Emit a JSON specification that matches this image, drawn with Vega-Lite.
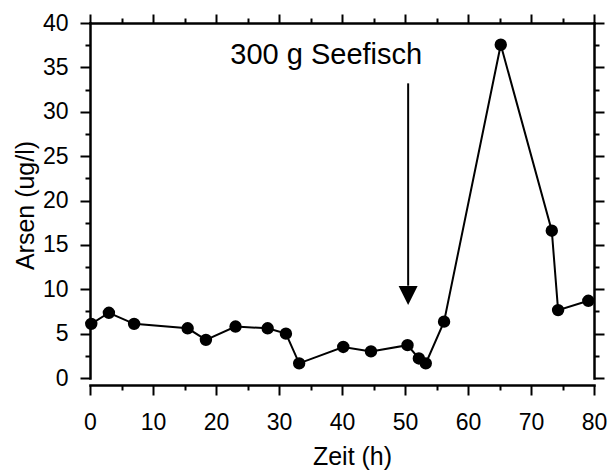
{
  "$schema": "https://vega.github.io/schema/vega-lite/v6.json",
  "width": 504,
  "height": 355,
  "autosize": {"type": "none"},
  "padding": {"left": 90, "top": 23, "right": 14, "bottom": 92},
  "background": "white",
  "config": {
    "view": {"stroke": null},
    "font": "Liberation Sans",
    "axis": {
      "domainColor": "black",
      "tickColor": "black",
      "labelColor": "black",
      "titleColor": "black",
      "domainWidth": 2.5,
      "tickWidth": 2,
      "grid": false,
      "labelFont": "Liberation Sans",
      "titleFont": "Liberation Sans",
      "labelFontSize": 23,
      "titleFontSize": 25,
      "titleFontWeight": "normal",
      "labelOverlap": false,
      "labelFlush": false,
      "domainCap": "square"
    }
  },
  "data": {
    "values": [
      {"t": 0.2, "as": 6.1},
      {"t": 3.0, "as": 7.35},
      {"t": 7.0, "as": 6.1},
      {"t": 15.5, "as": 5.6},
      {"t": 18.4, "as": 4.3},
      {"t": 23.1, "as": 5.8},
      {"t": 28.2, "as": 5.6},
      {"t": 31.1, "as": 5.0},
      {"t": 33.2, "as": 1.65},
      {"t": 40.2, "as": 3.5},
      {"t": 44.6, "as": 3.0},
      {"t": 50.4, "as": 3.7},
      {"t": 52.2, "as": 2.2},
      {"t": 53.3, "as": 1.65},
      {"t": 56.2, "as": 6.35},
      {"t": 65.2, "as": 37.55},
      {"t": 73.3, "as": 16.6},
      {"t": 74.3, "as": 7.65},
      {"t": 79.1, "as": 8.7}
    ]
  },
  "layer": [
    {
      "mark": {"type": "line", "color": "black", "strokeWidth": 2},
      "encoding": {
        "x": {
          "field": "t", "type": "quantitative",
          "scale": {"domain": [0, 80], "nice": false, "zero": false},
          "axis": {
            "orient": "bottom", "offset": 7,
            "values": [0, 5, 10, 15, 20, 25, 30, 35, 40, 45, 50, 55, 60, 65, 70, 75, 80],
            "tickSize": {"condition": {"test": "datum.value % 10 === 0", "value": 10}, "value": 5},
            "labelExpr": "datum.value % 10 === 0 ? datum.label : ''",
            "labelPadding": 16,
            "title": "Zeit (h)",
            "titleX": 262,
            "titlePadding": 10
          }
        },
        "y": {
          "field": "as", "type": "quantitative",
          "scale": {"domain": [0, 40], "nice": false},
          "axis": {
            "orient": "left",
            "values": [0, 2.5, 5, 7.5, 10, 12.5, 15, 17.5, 20, 22.5, 25, 27.5, 30, 32.5, 35, 37.5, 40],
            "tickSize": {"condition": {"test": "datum.value % 5 === 0", "value": 10}, "value": 5},
            "labelExpr": "datum.value % 5 === 0 ? datum.label : ''",
            "labelPadding": 12,
            "title": "Arsen (ug/l)",
            "titleY": 182,
            "titlePadding": 4
          }
        }
      }
    },
    {
      "mark": {"type": "point", "filled": true, "color": "black", "size": 154, "opacity": 1},
      "encoding": {
        "x": {
          "field": "t", "type": "quantitative",
          "axis": {
            "orient": "top",
            "values": [0, 5, 10, 15, 20, 25, 30, 35, 40, 45, 50, 55, 60, 65, 70, 75, 80],
            "tickSize": {"condition": {"test": "datum.value % 10 === 0", "value": 9}, "value": 5},
            "labels": false,
            "title": null
          }
        },
        "y": {
          "field": "as", "type": "quantitative",
          "axis": {
            "orient": "right",
            "values": [0, 2.5, 5, 7.5, 10, 12.5, 15, 17.5, 20, 22.5, 25, 27.5, 30, 32.5, 35, 37.5, 40],
            "tickSize": {"condition": {"test": "datum.value % 5 === 0", "value": 10}, "value": 5},
            "labels": false,
            "title": null
          }
        }
      }
    },
    {
      "data": {"values": [{"label": "300 g Seefisch", "tx": 37.5, "ty": 35.4}]},
      "mark": {"type": "text", "fontSize": 29, "font": "Liberation Sans", "align": "center", "baseline": "alphabetic", "color": "black"},
      "encoding": {
        "x": {"field": "tx", "type": "quantitative", "axis": null},
        "y": {"field": "ty", "type": "quantitative", "axis": null},
        "text": {"field": "label"}
      }
    },
    {
      "data": {"values": [{"ax": 50.5, "ay1": 33.2, "ay2": 10.4}]},
      "mark": {"type": "rule", "color": "black", "strokeWidth": 2},
      "encoding": {
        "x": {"field": "ax", "type": "quantitative", "axis": null},
        "y": {"field": "ay1", "type": "quantitative", "axis": null},
        "y2": {"field": "ay2"}
      }
    },
    {
      "data": {"values": [{"ax": 50.5, "ay": 9.3}]},
      "mark": {"type": "point", "shape": "M-1,-1L1,-1L0,1Z", "filled": true, "color": "black", "size": 361, "opacity": 1},
      "encoding": {
        "x": {"field": "ax", "type": "quantitative", "axis": null},
        "y": {"field": "ay", "type": "quantitative", "axis": null}
      }
    }
  ],
  "resolve": {"axis": {"x": "independent", "y": "independent"}}
}
